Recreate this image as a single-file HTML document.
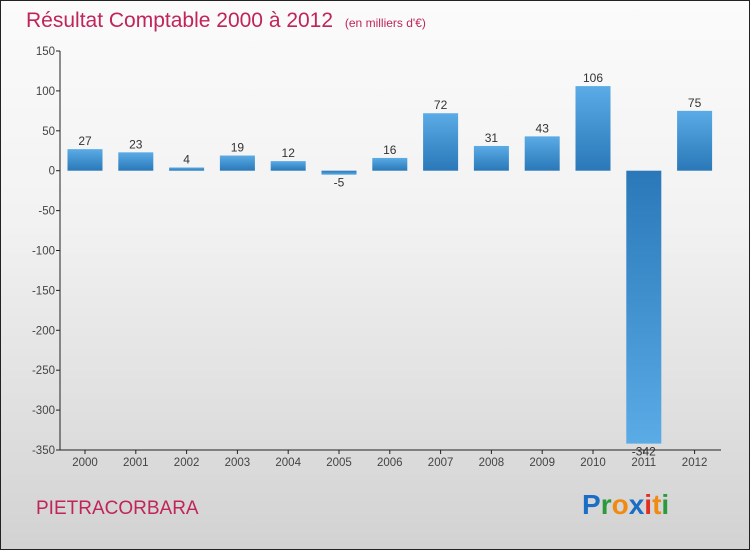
<!DOCTYPE html>
<html><head><meta charset="utf-8"><style>
html,body{margin:0;padding:0}
body{width:750px;height:550px;overflow:hidden;font-family:"Liberation Sans",sans-serif}
#frame{position:absolute;left:0;top:0;width:748px;height:548px;border:1px solid #222;background:linear-gradient(#fbfbfb,#f2f2f2 40%,#d2d2d2)}
svg{position:absolute;left:-1px;top:-1px}
</style></head><body>
<div id="frame">
<svg width="750" height="550" xmlns="http://www.w3.org/2000/svg">
<defs>
<linearGradient id="gp" x1="0" y1="0" x2="0" y2="1"><stop offset="0" stop-color="#5aabe6"/><stop offset="1" stop-color="#2a78b8"/></linearGradient>
<linearGradient id="gn" x1="0" y1="0" x2="0" y2="1"><stop offset="0" stop-color="#2a78b8"/><stop offset="1" stop-color="#5aabe6"/></linearGradient>
</defs>
<text x="26" y="27" font-size="21" fill="#c0245a">Résultat Comptable 2000 à 2012 <tspan font-size="12" dx="6">(en milliers d'€)</tspan></text>
<g id="axes"></g>
<g id="bars"></g>
<text x="36" y="514" font-size="19" fill="#c0245a">PIETRACORBARA</text>
<text x="582" y="514" font-size="28" font-weight="bold"><tspan fill="#1a6fc4">P</tspan><tspan fill="#2a9a3a">r</tspan><tspan fill="#f08a10">o</tspan><tspan fill="#1a6fc4">x</tspan><tspan fill="#e03020">i</tspan><tspan fill="#f08a10">t</tspan><tspan fill="#2a9a3a">i</tspan></text>
</svg></div>
<script>
const categories=["2000","2001","2002","2003","2004","2005","2006","2007","2008","2009","2010","2011","2012"];
const values=[27,23,4,19,12,-5,16,72,31,43,106,-342,75];
const yTicks=[150,100,50,0,-50,-100,-150,-200,-250,-300,-350];
const NS="http://www.w3.org/2000/svg";
const x0=60,x1=721,y0=450;
function y(v){return 51+(150-v)*399/500;}
function xc(i){return 85+i*50.8;}
const axes=document.getElementById('axes'),bars=document.getElementById('bars');
function mk(tag,attrs,parent,txt){const e=document.createElementNS(NS,tag);for(const k in attrs)e.setAttribute(k,attrs[k]);if(txt!==undefined)e.textContent=txt;parent.appendChild(e);return e;}
let l=mk('line',{x1:x0,y1:y(150),x2:x0,y2:y0,stroke:'#222'},axes);


l=mk('line',{x1:x0,y1:y0,x2:x1,y2:y0,stroke:'#222'},axes);


yTicks.forEach(t=>{
  mk('line',{x1:x0-4,y1:y(t),x2:x0,y2:y(t),stroke:'#222'},axes);
  const e=mk('text',{x:x0-5,y:y(t)+4,'font-size':11.5,fill:'#444','text-anchor':'end'},axes,String(t));
  
  
});
categories.forEach((c,i)=>{
  mk('line',{x1:xc(i),y1:y0,x2:xc(i),y2:y0+4,stroke:'#222'},axes);
  const e=mk('text',{x:xc(i),y:y0+16,'font-size':11.5,fill:'#444','text-anchor':'middle'},axes,c);
  
  
  const v=values[i],top=y(Math.max(v,0)),bot=y(Math.min(v,0));
  const r=mk('rect',{x:xc(i)-17.5,y:top,width:35,height:Math.max(bot-top,1),fill:v>=0?'url(#gp)':'url(#gn)'},bars);
  
  
  const ly=v>=0?top-4:bot+12;
  const t=mk('text',{x:xc(i),y:ly,'font-size':12,fill:'#333','text-anchor':'middle'},bars,String(v));
  
  
});
</script>
</body></html>
